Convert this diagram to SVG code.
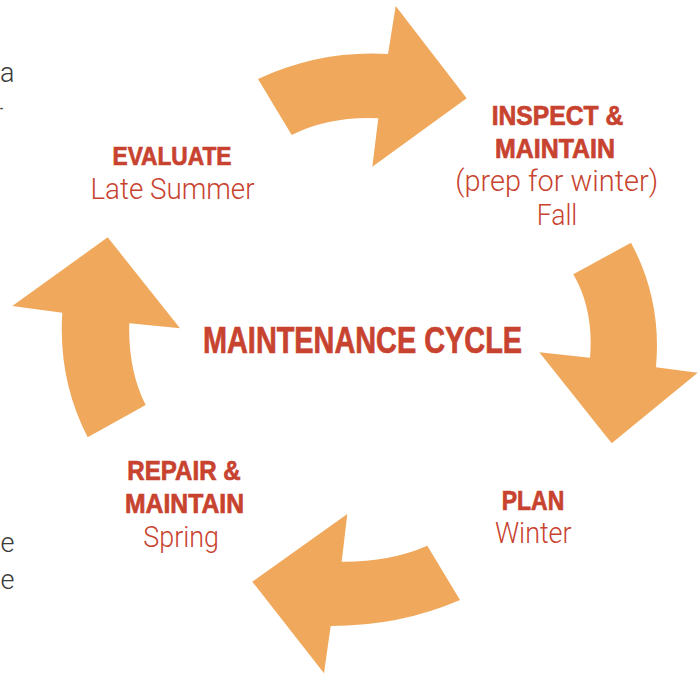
<svg xmlns="http://www.w3.org/2000/svg" width="698" height="675" viewBox="0 0 698 675">
<style>
.arrow{fill:#F0A95C;stroke:none}
.b{font-family:"Liberation Sans",Arial,sans-serif;font-weight:bold;fill:#C8432F;stroke:#C8432F;stroke-width:0.7;text-anchor:middle}
.l{font-family:Roboto,"Liberation Sans",Arial,sans-serif;font-weight:300;fill:#C8432F;text-anchor:middle}
.g{font-family:Roboto,"Liberation Sans",Arial,sans-serif;font-weight:300;fill:#3a3a3a;text-anchor:end;font-size:27px}
</style>
<rect width="698" height="675" fill="#ffffff"/>
<g id="fragments">
<text class="g" x="14.5" y="81.5">a</text>
<text class="g" x="3" y="117" textLength="3" lengthAdjust="spacingAndGlyphs">-</text>
<text class="g" x="14.5" y="551.5">e</text>
<text class="g" x="14.5" y="589">e</text>
</g>
<g id="connectors">
<path class="arrow" d="M258,79 Q320,50 388,54 L395.7,6 L466.7,98.3 L372.3,166.7 L378.3,118.3 Q330,116 291.7,135 Z"/>
<path class="arrow" d="M573.3,274.3 L631,242.7 Q662,300 656,367.3 L697.7,372.7 L611.7,443.3 L539.3,352.3 L590,357.7 Q594,310 573.3,274.3 Z"/>
<path class="arrow" d="M427.3,545.7 L460,600 Q400,626 330.7,626 L324,673.3 L252.3,581.7 L347.3,514 L341.7,561.7 Q390,562 427.3,545.7 Z"/>
<path class="arrow" d="M87.7,437.3 L145.7,405 Q128,370 129.3,323.3 L180,328.3 L107.7,237.3 L12.3,306 L62.3,312.7 Q58,380 87.7,437.3 Z"/>
</g>
<g id="center">
<text class="b" x="362.5" y="353" font-size="37" textLength="319" lengthAdjust="spacingAndGlyphs">MAINTENANCE CYCLE</text>
</g>
<g id="evaluate">
<text class="b" x="172" y="165" font-size="26" textLength="119" lengthAdjust="spacingAndGlyphs">EVALUATE</text>
<text class="l" x="172.5" y="199" font-size="29" textLength="164" lengthAdjust="spacingAndGlyphs">Late Summer</text>
</g>
<g id="inspect">
<text class="b" x="557.5" y="125" font-size="27" textLength="131.6" lengthAdjust="spacingAndGlyphs">INSPECT &amp;</text>
<text class="b" x="555" y="158.3" font-size="27" textLength="120" lengthAdjust="spacingAndGlyphs">MAINTAIN</text>
<text class="l" x="556.7" y="191" font-size="29" textLength="203" lengthAdjust="spacingAndGlyphs">(prep for winter)</text>
<text class="l" x="557" y="225" font-size="29" textLength="40.6" lengthAdjust="spacingAndGlyphs">Fall</text>
</g>
<g id="plan">
<text class="b" x="533" y="510" font-size="27" textLength="62.6" lengthAdjust="spacingAndGlyphs">PLAN</text>
<text class="l" x="533.3" y="543.3" font-size="29" textLength="76.7" lengthAdjust="spacingAndGlyphs">Winter</text>
</g>
<g id="repair">
<text class="b" x="184" y="480" font-size="27" textLength="113.4" lengthAdjust="spacingAndGlyphs">REPAIR &amp;</text>
<text class="b" x="184.5" y="513.3" font-size="27" textLength="119" lengthAdjust="spacingAndGlyphs">MAINTAIN</text>
<text class="l" x="181.2" y="546.7" font-size="29" textLength="75.7" lengthAdjust="spacingAndGlyphs">Spring</text>
</g>
</svg>
